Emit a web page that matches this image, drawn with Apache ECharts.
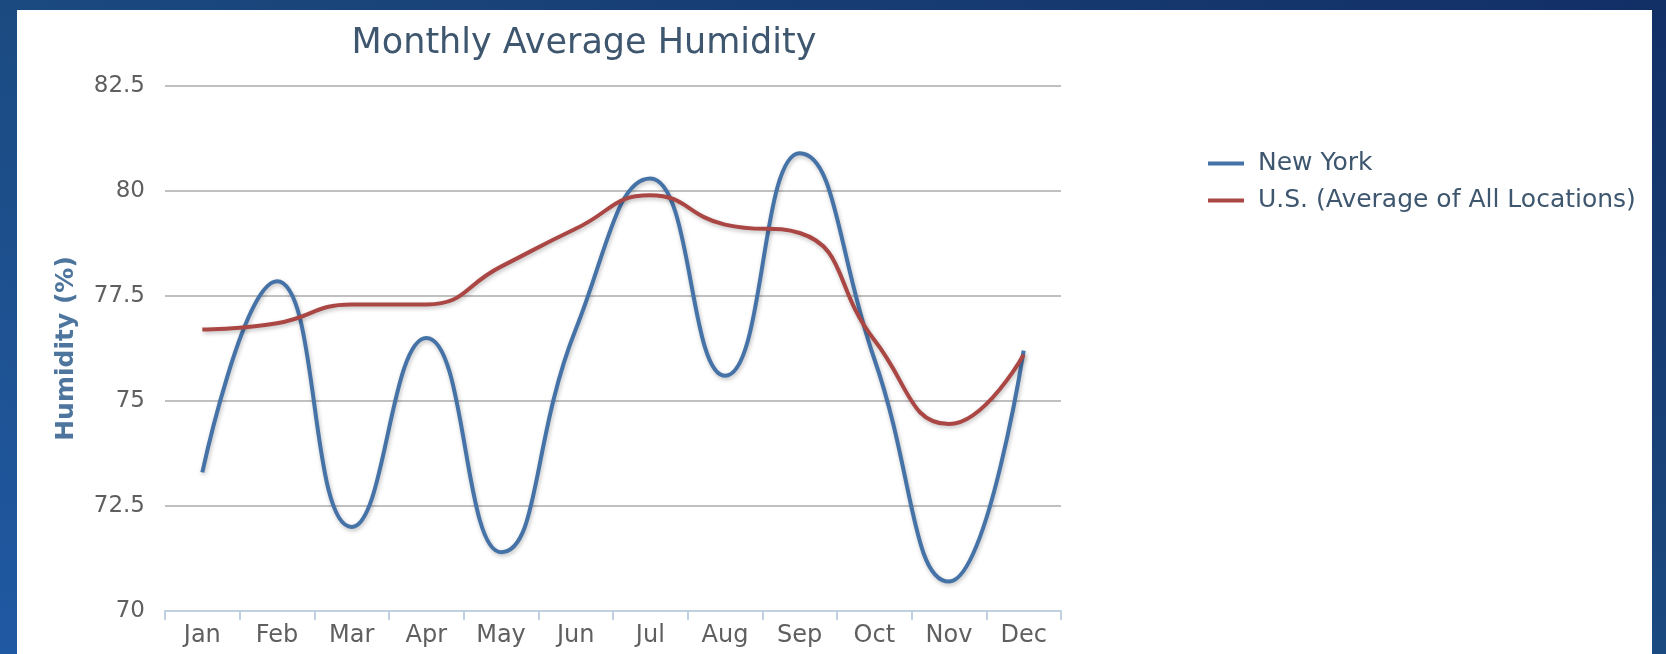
<!DOCTYPE html>
<html lang="en">
<head>
    <meta charset="UTF-8">
    <title>Monthly Average Humidity</title>
    <script src="https://cdn.jsdelivr.net/npm/echarts@6/dist/echarts.min.js"></script>
    <style>
        html, body {
            margin: 0;
            padding: 0;
            width: 1666px;
            height: 654px;
            overflow: hidden;
            background: linear-gradient(to bottom left, #122f66, #1b4a80 50%, #2059a3);
        }
        #chart {
            position: absolute;
            left: 17px;
            top: 10px;
            width: 1635px;
            height: 644px;
            background: #ffffff;
        }
    </style>
</head>
<body>
    <div id="chart"></div>

    <script>
        // 月份
        const months = ['Jan', 'Feb', 'Mar', 'Apr', 'May', 'Jun', 'Jul', 'Aug', 'Sep', 'Oct', 'Nov', 'Dec'];

        // 湿度数据 (%)
        const newYork = [73.3, 77.85, 72.0, 76.5, 71.4, 76.7, 80.3, 75.6, 80.9, 76.0, 70.7, 76.2];
        const usAverage = [76.7, 76.85, 77.3, 77.3, 78.2, 79.1, 79.9, 79.2, 79.0, 76.45, 74.45, 76.1];

        const fontFamily = 'DejaVu Sans';

        const lineShadow = {
            shadowColor: 'rgba(0, 0, 0, 0.25)',
            shadowBlur: 4,
            shadowOffsetX: 1,
            shadowOffsetY: 2
        };

        const option = {
            animation: false,
            title: {
                text: 'Monthly Average Humidity',
                left: 562,
                top: 11,
                textAlign: 'center',
                textStyle: {
                    color: '#3E576F',
                    fontFamily: fontFamily,
                    fontSize: 35,
                    fontWeight: 'normal'
                }
            },
            legend: {
                orient: 'vertical',
                left: 1186,
                top: 136,
                icon: 'rect',
                itemWidth: 36,
                itemHeight: 4,
                itemGap: 12,
                textStyle: {
                    color: '#3E576F',
                    fontFamily: fontFamily,
                    fontSize: 25,
                    lineHeight: 25,
                    padding: [0, 0, 0, 9]
                },
                data: ['New York', 'U.S. (Average of All Locations)']
            },
            grid: {
                left: 148,
                right: 591,
                top: 76,
                bottom: 43,
                containLabel: false
            },
            xAxis: {
                type: 'category',
                data: months,
                boundaryGap: true,
                axisLine: { lineStyle: { color: '#C0D0E0', width: 2 } },
                axisTick: { show: true, length: 9, lineStyle: { color: '#C0D0E0', width: 2 } },
                axisLabel: {
                    color: '#5f5f5f',
                    fontFamily: fontFamily,
                    fontSize: 24,
                    margin: 13
                },
                splitLine: { show: false }
            },
            yAxis: {
                type: 'value',
                min: 70,
                max: 82.5,
                interval: 2.5,
                name: 'Humidity (%)',
                nameLocation: 'middle',
                nameRotate: 90,
                nameGap: 86,
                nameTextStyle: {
                    color: '#4d759e',
                    fontFamily: fontFamily,
                    fontSize: 25,
                    fontWeight: 'bold'
                },
                axisLine: { show: false },
                axisTick: { show: false },
                axisLabel: {
                    color: '#5f5f5f',
                    fontFamily: fontFamily,
                    fontSize: 23,
                    margin: 20
                },
                splitLine: { lineStyle: { color: '#C0C0C0', width: 2 } }
            },
            series: [
                {
                    name: 'New York',
                    type: 'line',
                    smooth: 0.5,
                    showSymbol: false,
                    data: newYork,
                    itemStyle: { color: '#4572A7' },
                    lineStyle: Object.assign({ color: '#4572A7', width: 4 }, lineShadow)
                },
                {
                    name: 'U.S. (Average of All Locations)',
                    type: 'line',
                    smooth: 0.5,
                    showSymbol: false,
                    data: usAverage,
                    itemStyle: { color: '#AA4643' },
                    lineStyle: Object.assign({ color: '#AA4643', width: 4 }, lineShadow)
                }
            ]
        };

        const chart = echarts.init(document.getElementById('chart'));
        chart.setOption(option);
    </script>
</body>
</html>
